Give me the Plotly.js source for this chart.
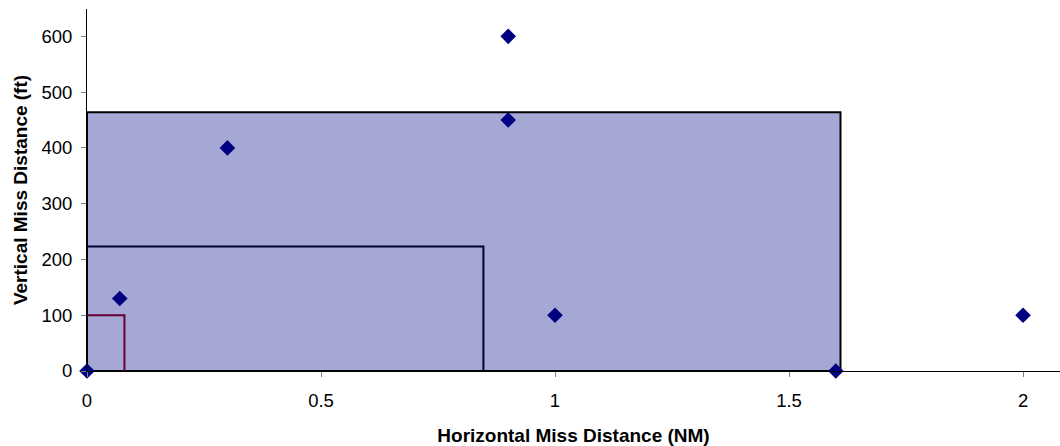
<!DOCTYPE html>
<html><head><meta charset="utf-8">
<script src="https://cdn.plot.ly/plotly-3.0.1.min.js"></script>
<style>html,body{margin:0;padding:0;background:#fff}#chart{width:1060px;height:446px}</style>
</head><body><div id="chart"></div>
<script>
// Observed miss distances
const horizontalNM = [0, 0.07, 0.3, 0.9, 0.9, 1, 1.6, 2];
const verticalFt   = [0, 130, 400, 600, 450, 100, 0, 100];
// Zone boxes (width NM, height ft)
const zoneNames  = ['Outer zone', 'Middle zone', 'Inner zone'];
const zoneWidth  = [1.61, 0.847, 0.08];
const zoneHeight = [464, 223, 100];
const xTicks = [0, 0.5, 1, 1.5, 2];
const xTickLabels = ['0', '0.5', '1', '1.5', '2'];
const yTicks = [0, 100, 200, 300, 400, 500, 600];

const zoneStyles = [
  {fill: 'toself', fillcolor: '#A5A7D4', line: {color: '#000000', width: 2}},
  {fill: 'none', line: {color: '#000033', width: 2}},
  {fill: 'none', line: {color: '#660033', width: 2}}
];
const traces = zoneNames.map((n, i) => {
  const w = zoneWidth[i], h = zoneHeight[i];
  const xs = i === 0 ? [0, w, w, 0, 0] : [0, w, w];
  const ys = i === 0 ? [0, 0, h, h, 0] : [h, h, 0];
  return Object.assign({type: 'scatter', mode: 'lines', name: n, x: xs, y: ys,
    hoverinfo: 'skip', showlegend: false, cliponaxis: false}, zoneStyles[i]);
});
traces.push({type: 'scatter', mode: 'markers', name: 'Events', x: horizontalNM, y: verticalFt,
  marker: {symbol: 'diamond', size: 12, color: '#000080'}, cliponaxis: false, showlegend: false});

const layout = {
  width: 1060, height: 446,
  margin: {l: 87, r: 0, t: 9, b: 75},
  paper_bgcolor: '#ffffff', plot_bgcolor: '#ffffff',
  font: {family: 'Liberation Sans, Arial, sans-serif', size: 18.5, color: '#000'},
  xaxis: {range: [0, 2.079], tickvals: xTicks, ticktext: xTickLabels,
    showgrid: false, zeroline: false, showline: true, linecolor: '#000', linewidth: 1,
    ticks: 'outside', ticklen: 5, tickcolor: '#808080', tickfont: {size: 18.5}, ticklabelstandoff: 8,
    title: {text: '<b>Horizontal Miss Distance (NM)</b>', font: {size: 19}, standoff: 18}},
  yaxis: {range: [0, 649], tickvals: yTicks,
    showgrid: false, zeroline: false, showline: true, linecolor: '#000', linewidth: 1,
    ticks: 'outside', ticklen: 5, tickcolor: '#808080', tickfont: {size: 18.5}, ticklabelstandoff: 5,
    title: {text: '<b>Vertical Miss Distance (ft)</b>', font: {size: 19}, standoff: 8}},
  showlegend: false
};
Plotly.newPlot('chart', traces, layout, {displayModeBar: false, staticPlot: true});
</script></body></html>
